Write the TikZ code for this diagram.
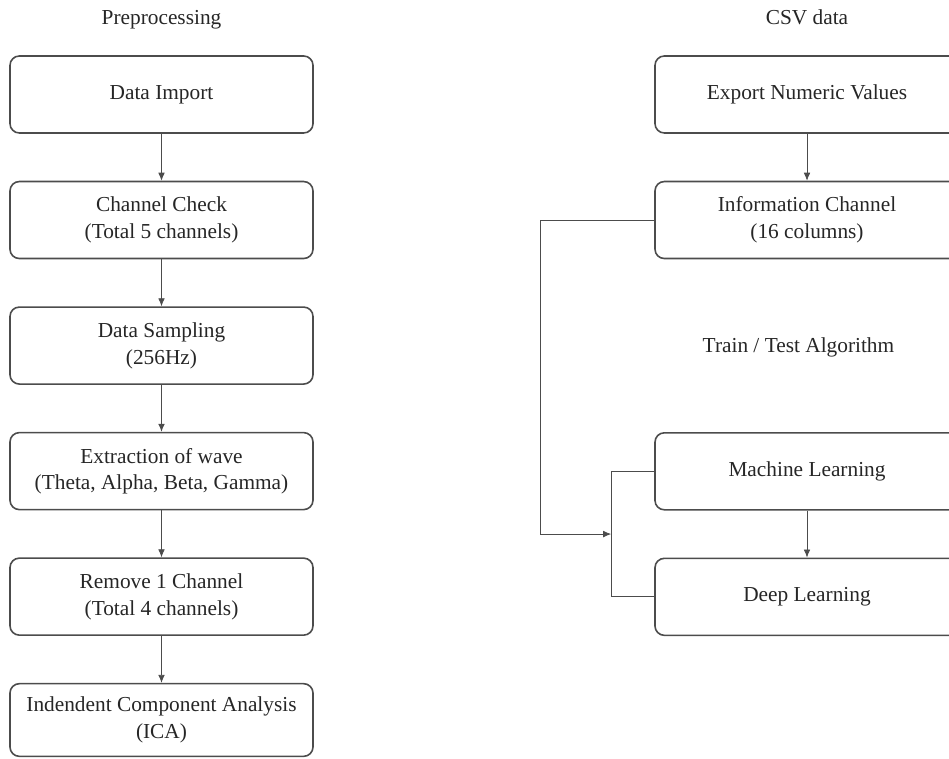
\documentclass[tikz,border=0pt]{standalone}
\usepackage{fontspec}
\setmainfont{Liberation Serif}
\usetikzlibrary{positioning,arrows.meta,calc}
\tikzset{
	stage/.style={draw=black!70,line width=1.2pt,rounded corners=7pt,minimum width=227.25pt,minimum height=57.75pt,align=center,text=black!85,font=\fontsize{16}{20}\selectfont},
	title/.style={inner sep=0pt,text height=11pt,text depth=3.5pt,text=black!85,font=\fontsize{16}{20}\selectfont},
	link/.style={draw=black!70,line width=0.6pt,-{Latex[length=6pt,width=5pt]}},
	wire/.style={draw=black!70,line width=0.6pt}
}
\begin{document}
\begin{tikzpicture}[x=0.75pt,y=-0.75pt,node distance=35.2pt]
	\clip (0,0) rectangle (949,759);

	\node [stage] (di) at (161.5,94.5) {Data Import};
	\node [stage,below=of di] (cc) {Channel Check\\(Total 5 channels)};
	\node [stage,below=of cc] (ds) {Data Sampling\\(256Hz)};
	\node [stage,below=of ds] (ew) {Extraction of wave\\(Theta, Alpha, Beta, Gamma)};
	\node [stage,below=of ew] (rc) {Remove 1 Channel\\(Total 4 channels)};
	\node [stage,minimum height=54.5pt,below=of rc] (ica) {Indendent Component Analysis\\(ICA)};
	\node [title,above=19.5pt of di] (pre) {Preprocessing};

	\node [stage,minimum width=228pt] (ev) at (807,94.5) {Export Numeric Values};
	\node [stage,minimum width=228pt,below=of ev] (ic) {Information Channel\\(16 columns)};
	\node [stage,minimum width=228pt,below=129.5pt of ic] (ml) {Machine Learning};
	\node [stage,minimum width=228pt,below=of ml] (dl) {Deep Learning};
	\node [title,above=19.5pt of ev] (csv) {CSV data};
	\node [title,below=58.5pt of ic,xshift=-6.4pt] (tt) {Train / Test Algorithm};

	\coordinate [left=32.25pt of ml.west] (mlj);
	\coordinate [left=32.25pt of dl.west] (dlj);

	\draw [link] (di) -- (cc);
	\draw [link] (cc) -- (ds);
	\draw [link] (ds) -- (ew);
	\draw [link] (ew) -- (rc);
	\draw [link] (rc) -- (ica);
	\draw [link] (ev) -- (ic);
	\draw [link] (ml) -- (dl);
	\draw [wire] (ml.west) -- (mlj) -- (dlj) -- (dl.west);
	\draw [link] (ic.west) -- ++(-114,0) |- ($(mlj)!0.5!(dlj)$);
\end{tikzpicture}
\end{document}
